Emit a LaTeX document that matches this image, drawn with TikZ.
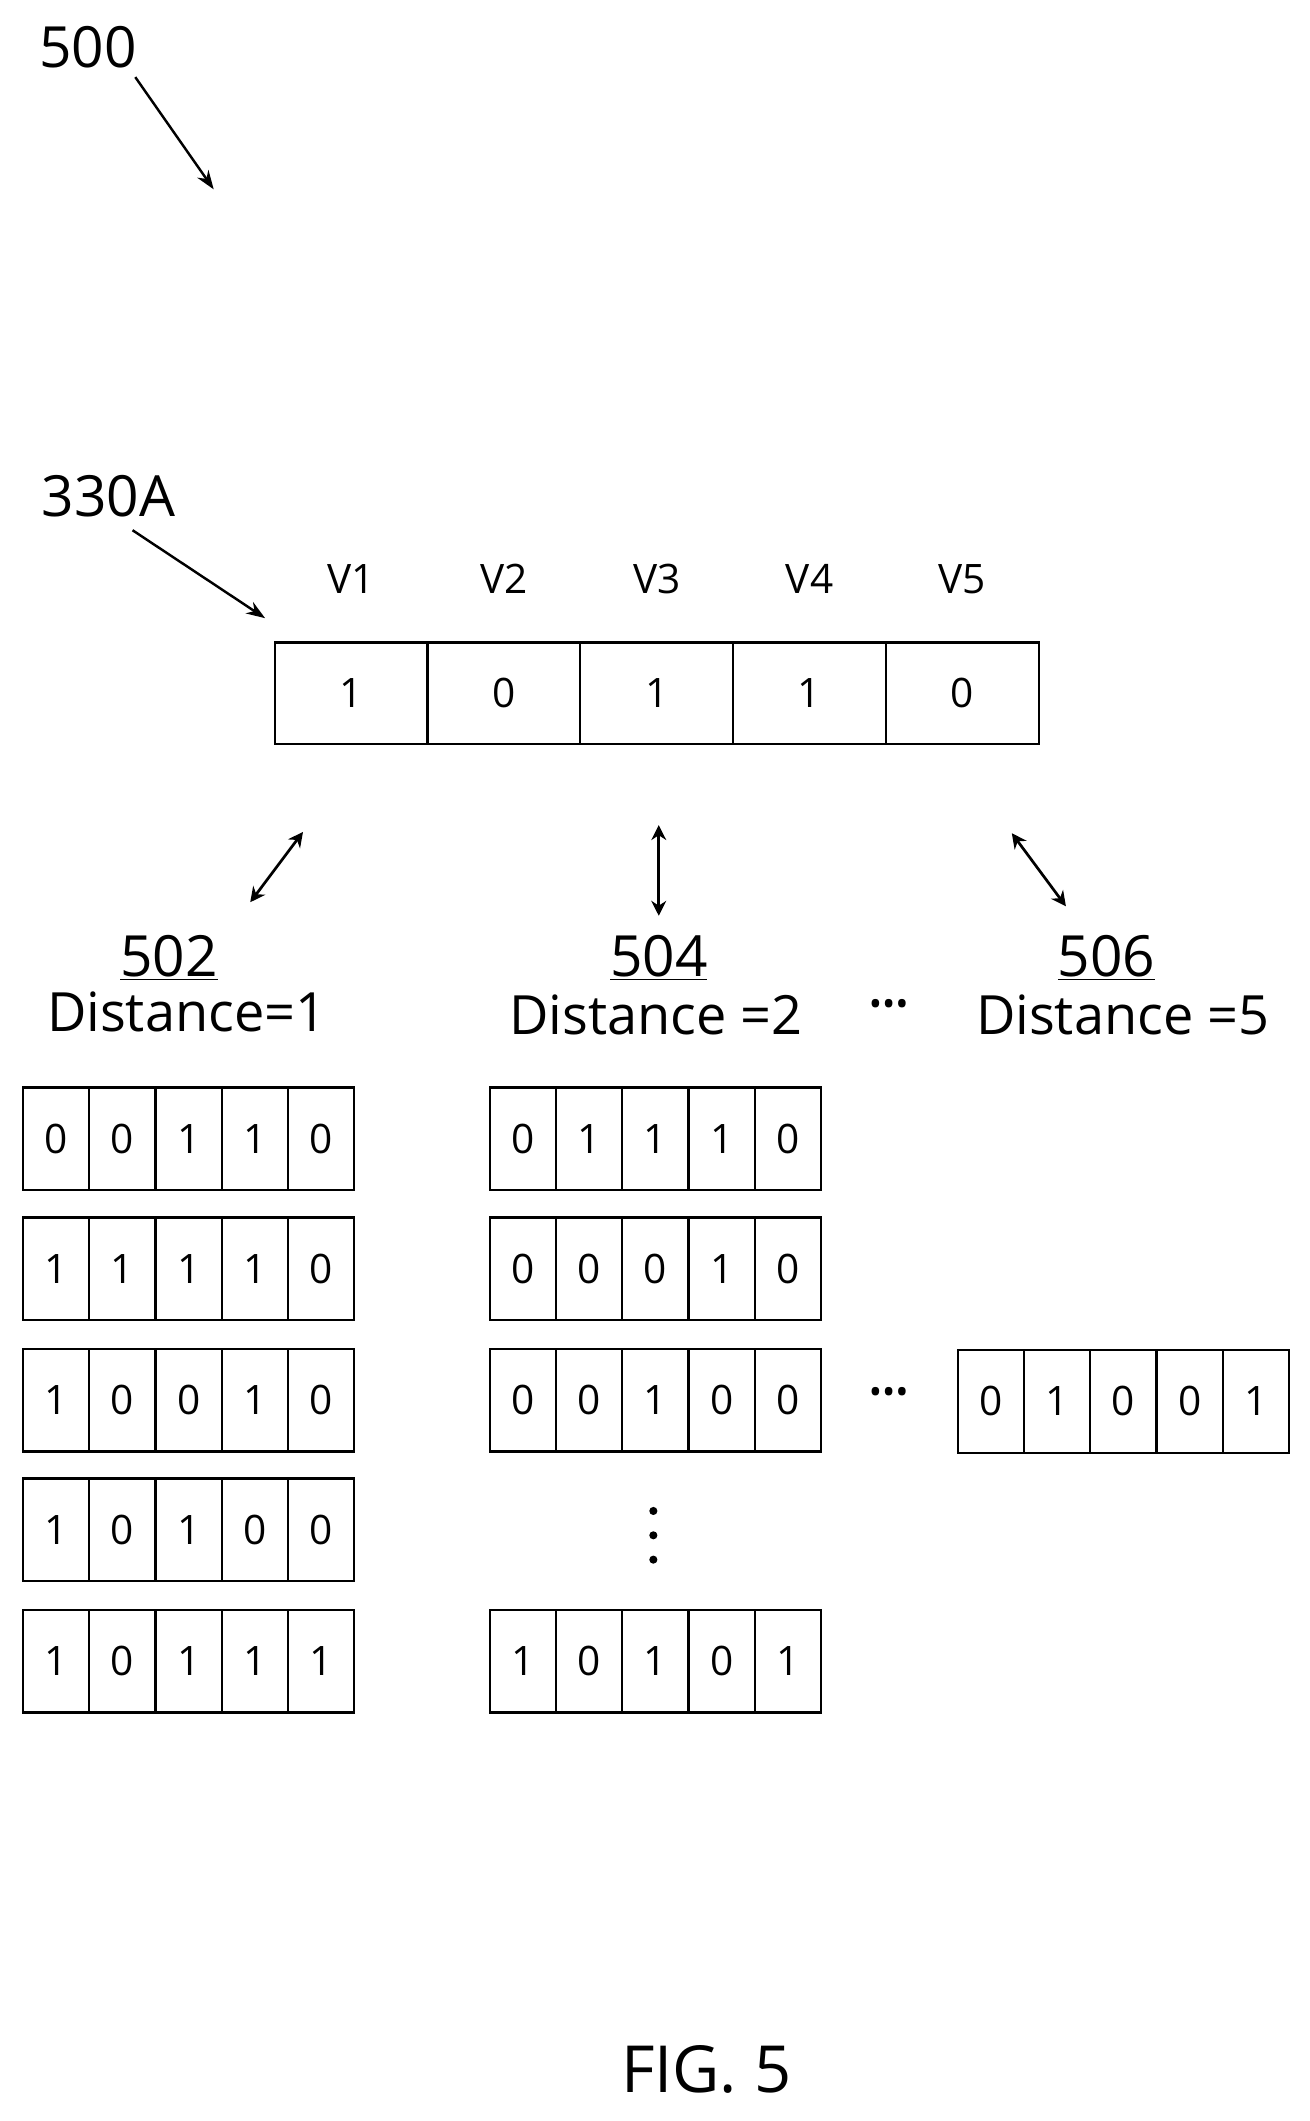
\documentclass[tikz,border=0pt]{standalone}
\usepackage{fontspec}
\setmainfont{Open Sans}
\usetikzlibrary{arrows.meta}
\begin{document}
\begin{tikzpicture}[x=1pt,y=-1pt,
  cell/.style={draw,line width=1.6pt,minimum width=49pt,minimum height=76pt,inner sep=0,font=\fontsize{30}{30}\selectfont},
  tcell/.style={draw,line width=1.6pt,minimum width=113pt,minimum height=75pt,inner sep=0,font=\fontsize{30}{30}\selectfont},
  lbl/.style={font=\fontsize{42}{42}\selectfont},
  dist/.style={font=\fontsize{40}{40}\selectfont},
  arr/.style={-{Stealth[length=14pt,width=10pt]},line width=1.8pt},
  darr/.style={{Stealth[length=11pt,width=11pt]}-{Stealth[length=11pt,width=11pt]},line width=2pt}]
\useasboundingbox (0,0) rectangle (968,1568);
\node[lbl] (n500) at (65,35) {500};
\coordinate (a500) at (158,140);
\draw[arr] (100,57) -- (a500);
\node[lbl] (n330) at (80,367) {330A};
\coordinate (a330) at (196,457);
\draw[arr] (98,392) -- (a330);
% top row
\foreach \v [count=\i] in {1,0,1,1,0}{
  \node[tcell] (t\i) at ({203+56.5+113*(\i-1)},512.5) {\v};
  \node[font=\fontsize{30}{30}\selectfont] (v\i) at ({203+56.5+113*(\i-1)},428) {V\i};
}
% double arrows
\coordinate (d1a) at (185,667); \coordinate (d1b) at (224,615);
\draw[darr] (d1a) -- (d1b);
\coordinate (d2a) at (487,610); \coordinate (d2b) at (487,677);
\draw[darr] (d2a) -- (d2b);
\coordinate (d3a) at (748,616); \coordinate (d3b) at (788,670);
\draw[darr] (d3a) -- (d3b);
% labels
\node[lbl] (l502) at (125,708) {\underline{502}};
\node[dist] (dd1) at (138,748) {Distance=1};
\node[lbl] (l504) at (487,708) {\underline{504}};
\node[dist] (dd2) at (485,750) {Distance =2};
\node[font=\fontsize{26}{26}\selectfont] (e1) at (657,745) {•••};
\node[lbl] (l506) at (818,708) {\underline{506}};
\node[dist] (dd3) at (830,750) {Distance =5};
% 502 rows
\foreach \y/\r/\a/\b/\c/\d/\e in {842/1/0/0/1/1/0,938/2/1/1/1/1/0,1035/3/1/0/0/1/0,1131/4/1/0/1/0/0,1228/5/1/0/1/1/1}{
  \foreach \v [count=\k] in {\a,\b,\c,\d,\e}{
    \node[cell] (a\r\k) at ({17+24.5+49*(\k-1)},\y) {\v};
  }
}
% 504 rows
\foreach \y/\r/\a/\b/\c/\d/\e in {842/1/0/1/1/1/0,938/2/0/0/0/1/0,1035/3/0/0/1/0/0,1228/5/1/0/1/0/1}{
  \foreach \v [count=\k] in {\a,\b,\c,\d,\e}{
    \node[cell] (b\r\k) at ({362+24.5+49*(\k-1)},\y) {\v};
  }
}
\foreach \yy [count=\j] in {1117,1135,1153}{\fill (483,\yy) circle (3pt);}
\node[font=\fontsize{26}{26}\selectfont] (e2) at (657,1032) {•••};
% 506 row
\foreach \v [count=\k] in {0,1,0,0,1}{
  \node[cell] (c\k) at ({708+24.5+49*(\k-1)},1036) {\v};
}
\node[font=\fontsize{48}{48}\selectfont] (fig) at (522,1530) {FIG. 5};
\end{tikzpicture}
\end{document}
